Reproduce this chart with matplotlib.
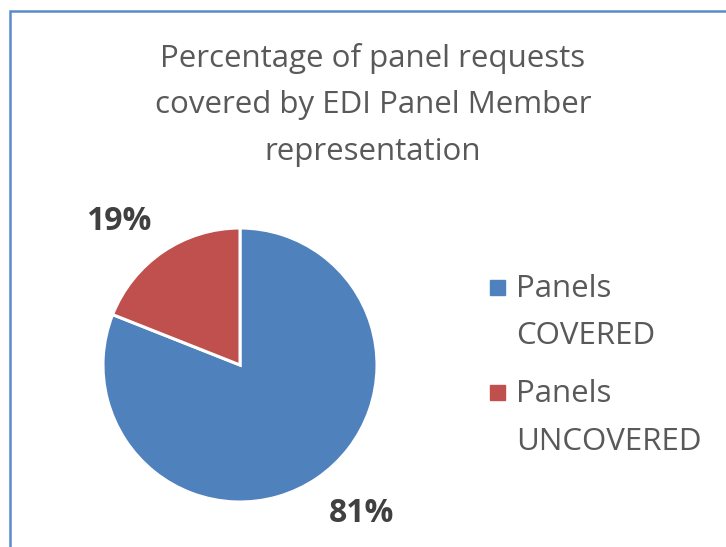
import matplotlib.pyplot as plt
from matplotlib.patches import Rectangle

categories = ['Panels\nCOVERED', 'Panels\nUNCOVERED']
shares = [81, 19]
colors = ['#4F81BD', '#C0504D']
title = 'Percentage of panel requests\ncovered by EDI Panel Member\nrepresentation'

W, H = 726, 547
fig = plt.figure(figsize=(W / 100, H / 100), dpi=100)
plt.rcParams['font.family'] = ['Open Sans', 'DejaVu Sans']


def px(x, y):
    # pixel position (from top-left) -> figure fraction
    return x / W, 1 - y / H


# chart frame, running off the right and bottom edges
fig.patches.append(Rectangle((9.5 / W, -0.1), 1.2, 1.1 - 11 / H, transform=fig.transFigure,
                             fill=False, edgecolor='#5B8BC9', linewidth=1.8))

# title, one line at a time on fixed baselines
for i, line in enumerate(title.split('\n')):
    fig.text(*px(373, 67 + i * 46.5), line, ha='center', va='baseline', fontsize=22.5,
             color='#595959')

cx, cy, r = 240, 365, 137
ax = fig.add_axes([(cx - r) / W, (H - cy - r) / H, 2 * r / W, 2 * r / H])
wedges, _ = ax.pie(shares, colors=colors, startangle=90, counterclock=False,
                   radius=1, wedgeprops=dict(edgecolor='white', linewidth=2.2))
ax.set_xlim(-1, 1)
ax.set_ylim(-1, 1)
ax.set_aspect('equal')
ax.axis('off')

# data labels outside the wedges
label_pos = [(0.887, -1.146), (-0.883, 0.985)]
for (x, y), v in zip(label_pos, shares):
    ax.text(x, y, f'{v}%', ha='center', va='baseline', fontsize=23, fontweight='bold',
            color='#404040', clip_on=False)

# legend
for i, (lab, c) in enumerate(zip(categories, colors)):
    base = 297 + i * 105
    fig.patches.append(Rectangle(px(490, base - 2), 15 / W, 15 / H,
                                 transform=fig.transFigure, color=c))
    for j, line in enumerate(lab.split('\n')):
        fig.text(*px(516, base + j * 47.5), line, ha='left', va='baseline', fontsize=22.5,
                 color='#595959')

fig.savefig('out.png', dpi=100)
